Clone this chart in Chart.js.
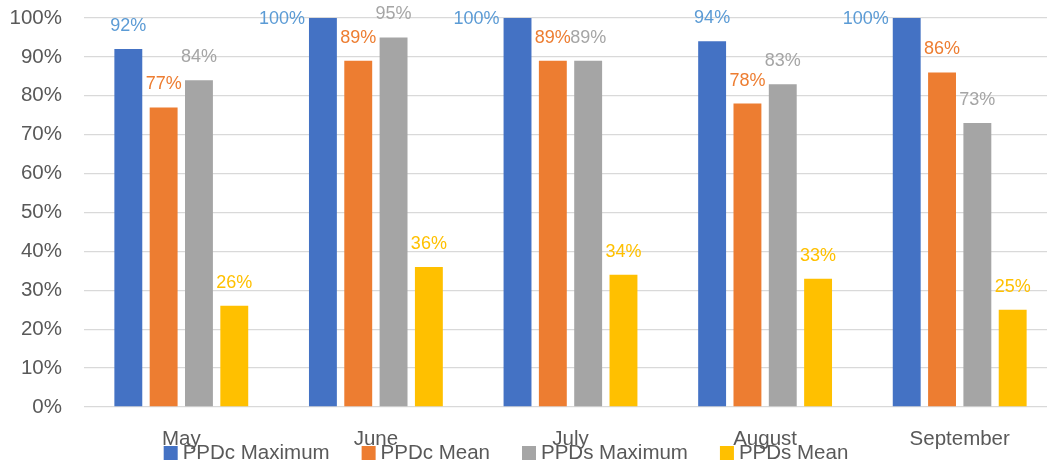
<!DOCTYPE html>
<html>
<head>
<meta charset="utf-8">
<script src="https://cdn.jsdelivr.net/npm/chart.js@4"></script>
<style>
  html, body { margin: 0; padding: 0; overflow: hidden; background: #fff; }
  #wrap { width: 1057px; height: 465px; position: relative; }
</style>
</head>
<body>
<div id="wrap"><canvas id="chart"></canvas></div>
<script>
const months = ["May", "June", "July", "August", "September"];
const seriesNames = ["PPDc Maximum", "PPDc Mean", "PPDs Maximum", "PPDs Mean"];
const ppdcMax = [92, 100, 100, 94, 100];
const ppdcMean = [77, 89, 89, 78, 86];
const ppdsMax = [84, 95, 89, 83, 73];
const ppdsMean = [26, 36, 34, 33, 25];
const yTicks = [0, 10, 20, 30, 40, 50, 60, 70, 80, 90, 100];

const barColors = ["#4472C4", "#ED7D31", "#A5A5A5", "#FFC000"];
const labelColors = ["#5B9BD5", "#ED7D31", "#A5A5A5", "#FFC000"];
const FONT = "'Liberation Sans', Arial, sans-serif";

// value labels above each bar (100% ones go to the left of the bar)
const valueLabels = {
  id: "valueLabels",
  afterDatasetsDraw(chart) {
    const ctx = chart.ctx;
    ctx.save();
    ctx.font = "18px " + FONT;
    ctx.textBaseline = "middle";
    chart.data.datasets.forEach((ds, i) => {
      const meta = chart.getDatasetMeta(i);
      meta.data.forEach((bar, j) => {
        const v = ds.data[j];
        ctx.fillStyle = labelColors[i];
        if (v >= 100) {
          ctx.textAlign = "right";
          ctx.fillText(v + "%", bar.x - bar.width / 2 - 4, bar.y + 1);
        } else {
          ctx.textAlign = "center";
          ctx.fillText(v + "%", bar.x, bar.y - 23);
        }
      });
    });
    ctx.restore();
  }
};

// legend drawn low so it overlaps the month labels like the original
const bottomLegend = {
  id: "bottomLegend",
  afterDraw(chart) {
    const ctx = chart.ctx;
    ctx.save();
    ctx.font = "20.5px " + FONT;
    ctx.textBaseline = "middle";
    ctx.textAlign = "left";
    const gap = 32, box = 14;
    const widths = seriesNames.map(n => box + 5 + ctx.measureText(n).width);
    const total = widths.reduce((a, b) => a + b, 0) + gap * (widths.length - 1);
    let x = 506 - total / 2;
    const y = 453;
    seriesNames.forEach((n, i) => {
      ctx.fillStyle = barColors[i];
      ctx.fillRect(x, y - 7, box, box);
      ctx.fillStyle = "#595959";
      ctx.fillText(n, x + box + 5, y);
      x += widths[i] + gap;
    });
    ctx.restore();
  }
};

const seriesData = [ppdcMax, ppdcMean, ppdsMax, ppdsMean];

new Chart(document.getElementById("chart"), {
  type: "bar",
  data: {
    labels: months,
    datasets: seriesNames.map((name, i) => ({
      label: name,
      data: seriesData[i],
      backgroundColor: barColors[i],
      categoryPercentage: 0.726,
      barPercentage: 0.79
    }))
  },
  options: {
    responsive: true,
    maintainAspectRatio: false,
    animation: false,
    layout: { padding: { top: 18, right: 0, left: 0, bottom: 0 } },
    plugins: {
      legend: { display: false },
      tooltip: { enabled: false }
    },
    scales: {
      x: {
        grid: { display: false, drawTicks: false },
        border: { display: false },
        ticks: { color: "#595959", font: { family: FONT, size: 20.5 }, padding: 20, maxRotation: 0 },
        afterFit: (s) => { s.height = 58; }
      },
      y: {
        min: 0,
        max: 100,
        afterBuildTicks: (s) => { s.ticks = yTicks.map(v => ({ value: v })); },
        grid: { color: "#D9D9D9", lineWidth: 1.3, drawTicks: false },
        border: { display: false },
        ticks: {
          color: "#595959",
          font: { family: FONT, size: 20.5 },
          padding: 22,
          callback: (v) => v + "%"
        },
        afterFit: (s) => { s.width = 84; s.paddingTop = 0; s.paddingBottom = 0; }
      }
    }
  },
  plugins: [valueLabels, bottomLegend]
});
</script>
</body>
</html>
